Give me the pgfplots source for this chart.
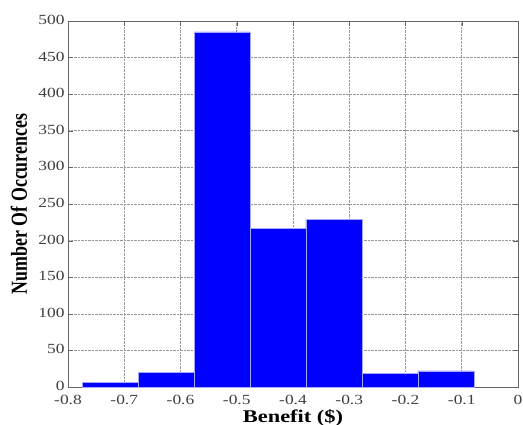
\documentclass[border=0pt]{standalone}
\usepackage{pgfplots}
\pgfplotsset{compat=1.18}
\usepackage{fontspec}
\setmainfont{Liberation Serif}
\newfontfamily\tickfont[FakeStretch=1.25]{Liberation Serif}
\newfontfamily\xlabfont[FakeStretch=1.25]{Liberation Serif}
\newfontfamily\ylabfont[FakeStretch=0.78]{Liberation Serif}
\begin{document}
\begin{tikzpicture}
\begin{axis}[
  scale only axis, width=450bp, height=366bp,
  xmin=-0.8, xmax=0, ymin=0, ymax=500,
  xtick={-0.8,-0.7,-0.6,-0.5,-0.4,-0.3,-0.2,-0.1,0},
  xticklabels={-0.8,-0.7,-0.6,-0.5,-0.4,-0.3,-0.2,-0.1,0},
  ytick={0,50,...,500},
  yticklabels={0,50,100,150,200,250,300,350,400,450,500},
  grid=major,
  major grid style={densely dotted, black!40, line width=0.6bp},
  tick align=inside, tick pos=both, major tick length=5bp,
  axis line style={black!60, line width=0.8bp},
  tick style={black!60},
  ticklabel style={font=\tickfont\fontsize{14}{16}\selectfont, text=black!75},
  xticklabel style={yshift=-5bp},
  yticklabel style={yshift=1bp},
  /pgf/number format/assume math mode=true,
  xlabel={Benefit (\$)},
  ylabel={Number Of Occurences},
  xlabel style={font=\xlabfont\fontsize{18}{20}\selectfont\bfseries,
    at={(axis description cs:0.5,0)}, anchor=north, inner sep=0pt, yshift=-22bp},
  ylabel style={font=\ylabfont\fontsize{23}{25}\selectfont\bfseries,
    at={(axis description cs:0,0.5)}, anchor=center, inner sep=0pt, yshift=49bp},
]
\addplot[ybar interval, fill=blue, draw=white!65!blue, line width=0.6bp]
  coordinates {(-0.775,6) (-0.6755,20) (-0.576,485) (-0.4765,217) (-0.377,229) (-0.2775,19) (-0.178,22) (-0.0785,22)};
\end{axis}
\pgfresetboundingbox
\path[use as bounding box] (-68bp,-38bp) rectangle (455bp,387bp);
\end{tikzpicture}
\end{document}
